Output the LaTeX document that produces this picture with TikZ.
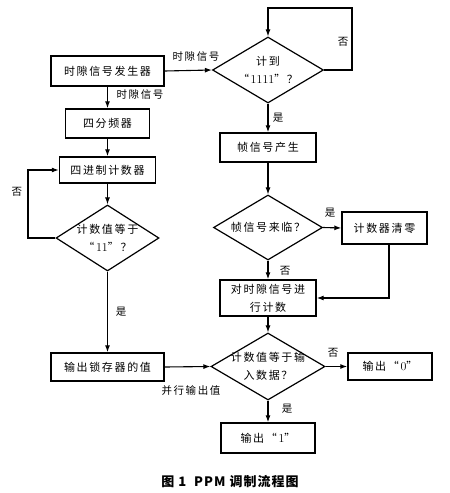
\documentclass[tikz,border=0pt]{standalone}
\usepackage{fontspec}
\newfontfamily\cjk[LetterSpace=15]{Noto Sans CJK SC}
\newfontfamily\cjkcap[LetterSpace=8]{Noto Sans CJK SC}
\usetikzlibrary{arrows.meta,shapes.geometric}
\begin{document}
\begin{tikzpicture}[x=1pt,y=-1pt,
  txt/.style={font=\cjk\fontsize{11}{18}\selectfont, align=center, inner sep=0pt},
  box/.style={txt, draw, line width=1.4pt},
  decision/.style={draw, diamond, line width=1.2pt, inner sep=0pt},
  arr/.style={line width=1.1pt, -{Latex[length=7pt,width=5pt]}},
  lbl/.style={font=\cjk\fontsize{10.5}{12}\selectfont, inner sep=0pt}]
\fill[white] (0,0) rectangle (450,493);
\useasboundingbox (0,0) rectangle (450,493);

% left column
\node[box, minimum width=113pt, minimum height=30pt] (gen) at (107.5,71) {时隙信号发生器};
\node[box, minimum width=84pt, minimum height=29pt] (div4) at (107.5,123.5) {四分频器};
\node[box, minimum width=96pt, minimum height=26pt] (cnt4) at (107.5,170) {四进制计数器};
\node[decision, minimum width=103pt, minimum height=66pt] (d11) at (107.5,238) {};
\node[txt] (d11t) at (d11) {计数值等于\\“\textrm{\fontsize{12}{12}\selectfont 11}”？};
\node[box, minimum width=113pt, minimum height=28pt] (latch) at (107.5,367) {输出锁存器的值};

% right column
\node[decision, minimum width=111pt, minimum height=66pt] (d1111) at (268,70) {};
\node[txt] (d1111t) at (d1111) {计到\\“\textrm{\fontsize{12}{12}\selectfont 1111}”？};
\node[box, minimum width=96pt, minimum height=29pt] (frame) at (268,147.5) {帧信号产生};
\node[decision, minimum width=109pt, minimum height=65pt] (darr) at (268,227.5) {};
\node[txt] (darrt) at (darr) {帧信号来临？};
\node[box, minimum width=85pt, minimum height=32pt] (clr) at (384.5,228) {计数器清零};
\node[box, minimum width=96pt, minimum height=36pt] (slot) at (268,298) {对时隙信号进\\行计数};
\node[decision, minimum width=114pt, minimum height=67pt] (dcmp) at (268,366.5) {};
\node[txt] (dcmpt) at (dcmp) {计数值等于输\\入数据？};
\node[box, minimum width=84pt, minimum height=27pt] (out0) at (390,366.5) {输出“\textrm{\fontsize{12}{12}\selectfont 0}”};
\node[box, minimum width=94pt, minimum height=30pt] (out1) at (268,438) {输出“\textrm{\fontsize{12}{12}\selectfont 1}”};

% loop coordinates
\coordinate (t1) at (352,8);
\coordinate (t2) at (28,170);

% connectors
\draw[arr] (gen.east) -- (d1111.west);
\draw[arr] (gen.south) -- (div4.north);
\draw[arr] (div4.south) -- (cnt4.north);
\draw[arr] (cnt4.south) -- (d11.north);
\draw[arr] (d11.west) -| (t2) -- (cnt4.west);
\draw[arr] (d11.south) -- (latch.north);
\draw[arr] (latch.east) -- (dcmp.west);

\draw[arr] (d1111.east) -| (t1) -| (d1111.north);
\draw[arr] (d1111.south) -- (frame.north);
\draw[arr] (frame.south) -- (darr.north);
\draw[arr] (darr.east) -- (clr.west);
\draw[arr] (darr.south) -- (slot.north);
\draw[arr] ([xshift=4.5pt]clr.south) |- (slot.east);
\draw[arr] (slot.south) -- (dcmp.north);
\draw[arr] (dcmp.east) -- (out0.west);
\draw[arr] (dcmp.south) -- (out1.north);

% labels
\node[lbl] (l1) at (343,42) {否};
\node[lbl] (l2) at (196,57) {时隙信号};
\node[lbl] (l3) at (140,95) {时隙信号};
\node[lbl] (l4) at (278,118) {是};
\node[lbl] (l5) at (17,192) {否};
\node[lbl] (l6) at (330,213) {是};
\node[lbl] (l7) at (285,271) {否};
\node[lbl] (l8) at (121,312) {是};
\node[lbl] (l9) at (191,391) {并行输出值};
\node[lbl] (l10) at (333,353) {否};
\node[lbl] (l11) at (287,409) {是};

\node[font=\cjkcap\bfseries\fontsize{13}{15}\selectfont, inner sep=0pt] (cap) at (230,482) {图 1\ \ PPM 调制流程图};
\end{tikzpicture}
\end{document}
